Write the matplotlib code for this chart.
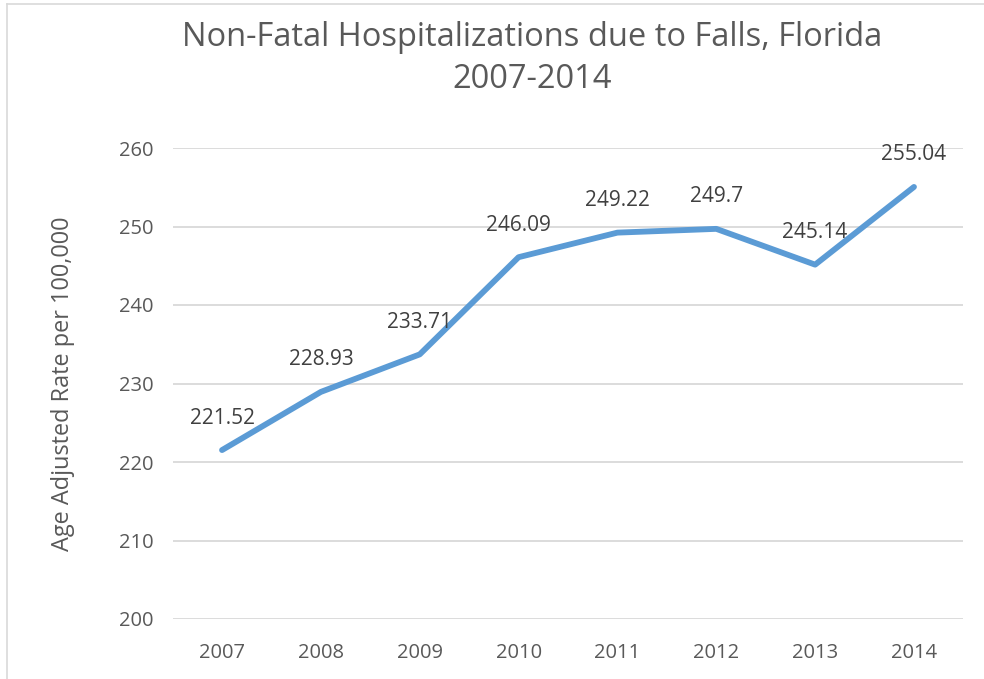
import matplotlib
matplotlib.use("Agg")
import matplotlib.pyplot as plt
from matplotlib.lines import Line2D

years = ["2007", "2008", "2009", "2010", "2011", "2012", "2013", "2014"]
rates = [221.52, 228.93, 233.71, 246.09, 249.22, 249.7, 245.14, 255.04]
labels = ["221.52", "228.93", "233.71", "246.09", "249.22", "249.7", "245.14", "255.04"]
yticks = [200, 210, 220, 230, 240, 250, 260]

W, H = 984, 679
fig = plt.figure(figsize=(W/100, H/100), dpi=100)
plt.rcParams['font.family'] = ['Open Sans', 'DejaVu Sans']

left, right = 172.6, 963.4
top, bottom = 148, 619
ax = fig.add_axes([left/W, 1-bottom/H, (right-left)/W, (bottom-top)/H])

x = list(range(len(years)))
ax.plot(x, rates, color="#5B9BD5", lw=4.2, solid_capstyle="round", solid_joinstyle="round", zorder=3)
for xi, v, t in zip(x, rates, labels):
    ax.annotate(t, (xi, v), xytext=(0, 23), textcoords="offset points",
                ha="center", va="center", fontsize=15, color="#404040", zorder=4)

ax.set_xlim(-0.5, len(years)-0.5)
ax.set_ylim(200, 260)
ax.set_yticks(yticks)
ax.set_xticks(x)
ax.set_xticklabels(years)
ax.grid(axis="y", color="#D9D9D9", lw=1.3)
ax.set_axisbelow(True)
for s in ax.spines.values():
    s.set_visible(False)
ax.tick_params(axis="both", length=0, labelsize=14.5, labelcolor="#595959")
ax.tick_params(axis="y", pad=14)
ax.tick_params(axis="x", pad=17)
ax.set_ylabel("Age Adjusted Rate per 100,000", fontsize=16.9, color="#595959", labelpad=31)

tx = 532/W
fig.text(tx, 1-37/H, "Non-Fatal Hospitalizations due to Falls, Florida", ha="center", va="center",
         fontsize=23.5, color="#595959")
fig.text(tx, 1-79/H, "2007-2014", ha="center", va="center", fontsize=23.5, color="#595959")

fig.add_artist(Line2D([7/W, 7/W], [0, 1-4/H], color="#D9D9D9", lw=1.2, transform=fig.transFigure))
fig.add_artist(Line2D([7/W, 1], [1-4/H, 1-4/H], color="#D9D9D9", lw=1.2, transform=fig.transFigure))

fig.savefig("out.png", dpi=100, facecolor="white")
